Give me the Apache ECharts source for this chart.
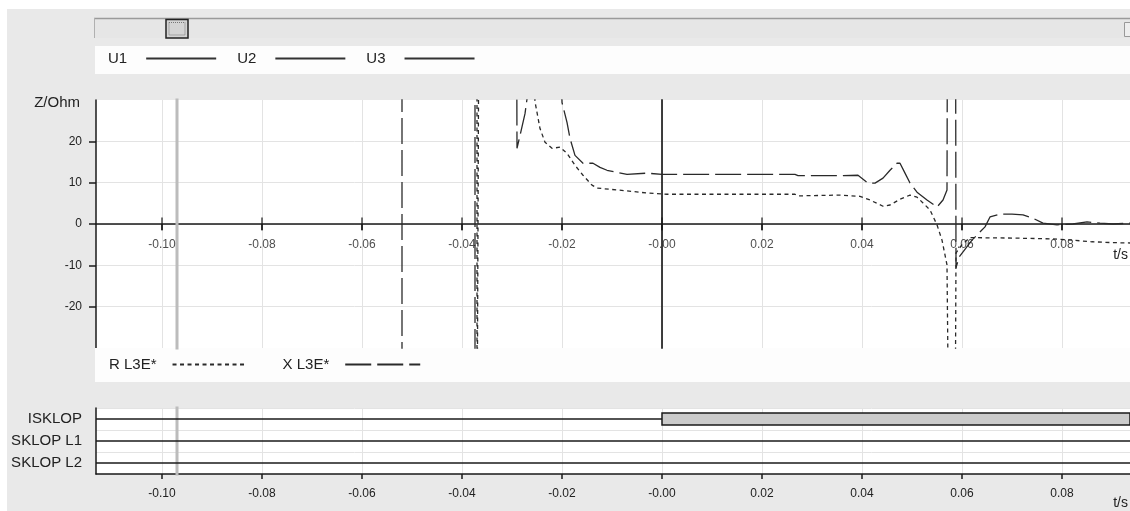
<!DOCTYPE html>
<html><head><meta charset="utf-8">
<script src="https://cdn.jsdelivr.net/npm/echarts@6/dist/echarts.min.js"></script>
<style>
html,body{margin:0;padding:0;background:#fff;overflow:hidden;}
#panel{position:absolute;left:7px;top:9px;right:0;bottom:0;background:#e9e9e9;}
#chart{position:absolute;left:0;top:0;width:1130px;height:511px;}
</style></head><body>
<div id="panel"></div><div id="chart"></div>
<script>
// ---- data ----
const xTickValues = [-0.10, -0.08, -0.06, -0.04, -0.02, 0, 0.02, 0.04, 0.06, 0.08];
const xTickLabels = ['-0.10', '-0.08', '-0.06', '-0.04', '-0.02', '-0.00', '0.02', '0.04', '0.06', '0.08'];
const yTickValues = [-20, -10, 0, 10, 20];
const yTickLabels = ['-20', '-10', '0', '10', '20'];
const tRange = [-0.1132, 0.0936];
const zRange = [-30, 30];
const topLegendNames = ['U1', 'U2', 'U3'];
const zSeriesNames = ['R L3E*', 'X L3E*'];

// R L3E* (values beyond +/-30 are off-scale, estimated)
const rT = [-0.1132, -0.0370, -0.0370, -0.0366, -0.0366, -0.0264, -0.0254, -0.0244, -0.0234, -0.0220,
  -0.0204, -0.0190, -0.0174, -0.0158, -0.0140, -0.0130, -0.0104, -0.0070, -0.0030, 0.0010,
  0.0100, 0.0200, 0.0266, 0.0272, 0.0356, 0.0396, 0.0416, 0.0442, 0.0456, 0.0476,
  0.0496, 0.0510, 0.0522, 0.0536, 0.0550, 0.0560, 0.0570, 0.0574, 0.0586, 0.0588,
  0.0600, 0.0616, 0.0700, 0.0780, 0.0820, 0.0860, 0.0900, 0.0936];
const rV = [60, 60, -60, -60, 60, 60, 29.6, 23.1, 19.8, 18.3,
  18.6, 17.1, 14.2, 11.8, 9.4, 8.7, 8.4, 8.0, 7.5, 7.2,
  7.2, 7.2, 7.2, 6.8, 7.0, 6.7, 5.8, 4.3, 4.6, 6.0,
  7.0, 6.5, 5.1, 3.4, -0.2, -3.9, -9.9, -60, -60, -7.0,
  -5.0, -3.3, -3.4, -3.6, -3.9, -4.3, -4.5, -4.6];

// X L3E*
const xT = [-0.1132, -0.0520, -0.0520, -0.0374, -0.0374, -0.0291, -0.0290, -0.0284, -0.0274, -0.0268,
  -0.0262, -0.0208, -0.0200, -0.0190, -0.0184, -0.0174, -0.0158, -0.0138, -0.0124, -0.0110,
  -0.0090, -0.0070, -0.0030, 0.0000, 0.0200, 0.0266, 0.0272, 0.0356, 0.0392, 0.0412,
  0.0426, 0.0442, 0.0456, 0.0470, 0.0476, 0.0486, 0.0496, 0.0510, 0.0530, 0.0550,
  0.0562, 0.0570, 0.0571, 0.0587, 0.0588, 0.0594, 0.0620, 0.0646, 0.0656, 0.0676,
  0.0700, 0.0722, 0.0742, 0.0762, 0.0790, 0.0822, 0.0850, 0.0876, 0.0902, 0.0936];
const xV = [60, 60, -60, -60, 60, 60, 18.3, 21.4, 26.7, 32,
  60, 60, 29.4, 24.6, 20.7, 16.6, 14.7, 14.7, 13.7, 13.0,
  12.5, 12.0, 12.3, 12.0, 12.0, 12.0, 11.7, 11.7, 11.8, 9.9,
  9.9, 11.1, 13.0, 14.7, 14.7, 12.3, 9.9, 7.7, 5.8, 4.1,
  5.8, 8.2, 60, 60, -10.6, -8.0, -3.9, -0.7, 1.7, 2.4,
  2.4, 2.2, 1.4, 0.2, -0.2, 0.0, 0.5, 0.2, 0.0, 0.2];

const cursorT = -0.097;
const triggerT = 0;

const signalNames = ['ISKLOP', 'SKLOP L1', 'SKLOP L2'];
const signalRows = [0.5, 1.5, 2.5];
// [tStart, tEnd, state]
const signalIntervals = [
  [[-0.12, 0, 0], [0, 0.1, 1]],
  [[-0.12, 0.1, 0]],
  [[-0.12, 0.1, 0]]
];

// ---- build ----
const FONT = 'Liberation Sans, Arial, sans-serif';
const rData = rT.map((t, i) => [t, rV[i]]);
const xData = xT.map((t, i) => [t, xV[i]]);
const sigData = [];
signalIntervals.forEach((arr, row) => arr.forEach(s => sigData.push([s[0], s[1], signalRows[row], s[2]])));

function tLabel(v) {
  const i = xTickValues.findIndex(t => Math.abs(t - v) < 1e-9);
  return i >= 0 ? xTickLabels[i] : '';
}
function yLabel(v) {
  const i = yTickValues.findIndex(t => Math.abs(t - v) < 1e-9);
  return i >= 0 ? yTickLabels[i] : '';
}
function sigLabel(v) {
  const i = signalRows.findIndex(t => Math.abs(t - v) < 1e-9);
  return i >= 0 ? signalNames[i] : '';
}
const AX = { color: '#1a1a1a', width: 1.5 };
const SPL = { show: true, lineStyle: { color: '#e3e3e3', width: 1 } };

function renderSignal(params, api) {
  const t0 = api.value(0), t1 = api.value(1), row = api.value(2), st = api.value(3);
  const cs = params.coordSys;
  const a = api.coord([t0, row]), b = api.coord([t1, row]);
  const x0 = Math.max(a[0], cs.x), x1 = Math.min(b[0], cs.x + cs.width);
  const y = a[1];
  if (st) {
    return { type: 'rect', shape: { x: x0, y: y - 6, width: x1 - x0, height: 12 },
      style: { fill: '#cbcbcb', stroke: '#1a1a1a', lineWidth: 1.5 } };
  }
  return { type: 'line', shape: { x1: x0, y1: y, x2: x1, y2: y },
    style: { stroke: '#1a1a1a', lineWidth: 1.5 } };
}

const chart = echarts.init(document.getElementById('chart'), null, { renderer: 'canvas' });
const option = {
  animation: false,
  backgroundColor: 'transparent',
  textStyle: { fontFamily: FONT },
  graphic: [
    { type: 'rect', z: 1, shape: { x: 94, y: 18, width: 1036, height: 20 }, style: { fill: '#e6e6e6' } },
    { type: 'line', z: 1, shape: { x1: 94, y1: 18.5, x2: 1130, y2: 18.5 }, style: { stroke: '#9a9a9a', lineWidth: 1.5 } },
    { type: 'line', z: 1, shape: { x1: 94.5, y1: 18, x2: 94.5, y2: 38 }, style: { stroke: '#b0b0b0', lineWidth: 1 } },
    { type: 'rect', z: 2, shape: { x: 166, y: 19.5, width: 22, height: 18.5 }, style: { fill: '#d4d4d4', stroke: '#222', lineWidth: 1.5 } },
    { type: 'rect', z: 3, shape: { x: 169, y: 22.5, width: 16, height: 12.5 }, style: { fill: 'none', stroke: '#777', lineWidth: 1, lineDash: [1, 1] } },
    { type: 'rect', z: 2, shape: { x: 1124.5, y: 22.5, width: 10, height: 14 }, style: { fill: '#eee', stroke: '#999', lineWidth: 1 } },
    { type: 'rect', z: 1, shape: { x: 95, y: 46, width: 1035, height: 28 }, style: { fill: '#fdfdfd' } },
    { type: 'rect', z: 1, shape: { x: 95, y: 348, width: 1035, height: 34 }, style: { fill: '#fdfdfd' } },
    { type: 'text', z: 5, x: 80, y: 103, style: { text: 'Z/Ohm', fill: '#222', font: '15px ' + FONT, align: 'right', verticalAlign: 'middle' } },
    { type: 'text', z: 5, x: 1128, y: 255, style: { text: 't/s', fill: '#222', font: '14px ' + FONT, align: 'right', verticalAlign: 'middle' } },
    { type: 'text', z: 5, x: 1128, y: 503, style: { text: 't/s', fill: '#222', font: '14px ' + FONT, align: 'right', verticalAlign: 'middle' } }
  ],
  legend: [
    { data: topLegendNames, left: 108, top: 51, padding: 0, align: 'right', itemWidth: 70, itemHeight: 14,
      itemGap: 20, selectedMode: false,
      textStyle: { fontSize: 15, color: '#222', fontFamily: FONT, padding: [0, 14, 0, 0] },
      itemStyle: { opacity: 0 } },
    { data: zSeriesNames, left: 109, top: 357, padding: 0, align: 'right', itemWidth: 75, itemHeight: 14,
      itemGap: 34, selectedMode: false,
      textStyle: { fontSize: 15, color: '#222', fontFamily: FONT, padding: [0, 11, 0, 0] },
      itemStyle: { opacity: 0 } }
  ],
  grid: [
    { left: 96, top: 100, width: 1034, height: 248, show: true, backgroundColor: '#ffffff', borderWidth: 0 },
    { left: 96, top: 408, width: 1034, height: 66, show: true, backgroundColor: '#ffffff', borderWidth: 0 }
  ],
  xAxis: [
    { gridIndex: 0, type: 'value', min: tRange[0], max: tRange[1], position: 'bottom',
      axisLine: { show: true, onZero: true, lineStyle: AX },
      axisTick: { show: true, customValues: xTickValues, length: 6, inside: false, lineStyle: AX },
      axisLabel: { show: false, customValues: xTickValues },
      splitLine: SPL },
    { gridIndex: 1, type: 'value', min: tRange[0], max: tRange[1], position: 'bottom',
      axisLine: { show: true, onZero: false, lineStyle: AX },
      axisTick: { show: true, customValues: xTickValues, length: 5, inside: false, lineStyle: AX },
      axisLabel: { customValues: xTickValues, formatter: tLabel, fontSize: 12, color: '#222', margin: 14, fontFamily: FONT },
      splitLine: SPL }
  ],
  yAxis: [
    { gridIndex: 0, type: 'value', min: zRange[0], max: zRange[1], interval: 10,
      axisLine: { show: true, onZero: false, lineStyle: AX },
      axisTick: { show: true, customValues: yTickValues, length: 7, lineStyle: AX },
      axisLabel: { customValues: yTickValues, formatter: yLabel, fontSize: 12, color: '#222', margin: 14, fontFamily: FONT },
      splitLine: SPL },
    { gridIndex: 1, type: 'value', min: 0, max: 3, interval: 1, inverse: true,
      axisLine: { show: true, onZero: false, lineStyle: AX },
      axisTick: { show: false },
      axisLabel: { customValues: signalRows, formatter: sigLabel, fontSize: 15, color: '#222', margin: 14, fontFamily: FONT },
      splitLine: { show: true, lineStyle: { color: '#e3e3e3', width: 1 } } }
  ],
  series: [
    ...topLegendNames.map(n => ({ name: n, type: 'line', xAxisIndex: 0, yAxisIndex: 0, data: [],
      symbol: 'none', color: '#333', lineStyle: { color: '#333', width: 1, type: 'solid' } })),
    // cursor & trigger lines
    { type: 'line', xAxisIndex: 0, yAxisIndex: 0, data: [[cursorT, -100], [cursorT, 100]], symbol: 'none', silent: true,
      z: 1, lineStyle: { color: '#bcbcbc', width: 3 } },
    { type: 'line', xAxisIndex: 0, yAxisIndex: 0, data: [[triggerT, -100], [triggerT, 100]], symbol: 'none', silent: true,
      z: 1, lineStyle: { color: '#111', width: 1.6 } },
    { type: 'line', xAxisIndex: 1, yAxisIndex: 1, data: [[cursorT, -10], [cursorT, 10]], symbol: 'none', silent: true,
      z: 1, lineStyle: { color: '#bcbcbc', width: 3 } },
    // axis ticks crossing the zero line, with their tick labels
    { type: 'scatter', xAxisIndex: 0, yAxisIndex: 0, data: xTickValues.map(v => [v, 0]), symbol: 'rect',
      symbolSize: [1.5, 13], silent: true, z: 4, itemStyle: { color: '#1a1a1a' },
      label: { show: true, position: 'bottom', distance: 8, formatter: p => tLabel(p.value[0]),
        fontSize: 12, color: '#222', fontFamily: FONT } },
    { name: zSeriesNames[0], type: 'line', xAxisIndex: 0, yAxisIndex: 0, data: rData, symbol: 'none',
      clip: true, z: 3, color: '#333', lineStyle: { color: '#2a2a2a', width: 1.3, type: [4, 3.5] } },
    { name: zSeriesNames[1], type: 'line', xAxisIndex: 0, yAxisIndex: 0, data: xData, symbol: 'none',
      clip: true, z: 3, color: '#333', lineStyle: { color: '#2a2a2a', width: 1.3, type: [26, 6] } },
    { type: 'custom', xAxisIndex: 1, yAxisIndex: 1, data: sigData, renderItem: renderSignal,
      dimensions: ['t0', 't1', 'row', 'state'], encode: { x: [0, 1], y: 2 }, z: 3 }
  ]
};
chart.setOption(option);
</script>
</body></html>
